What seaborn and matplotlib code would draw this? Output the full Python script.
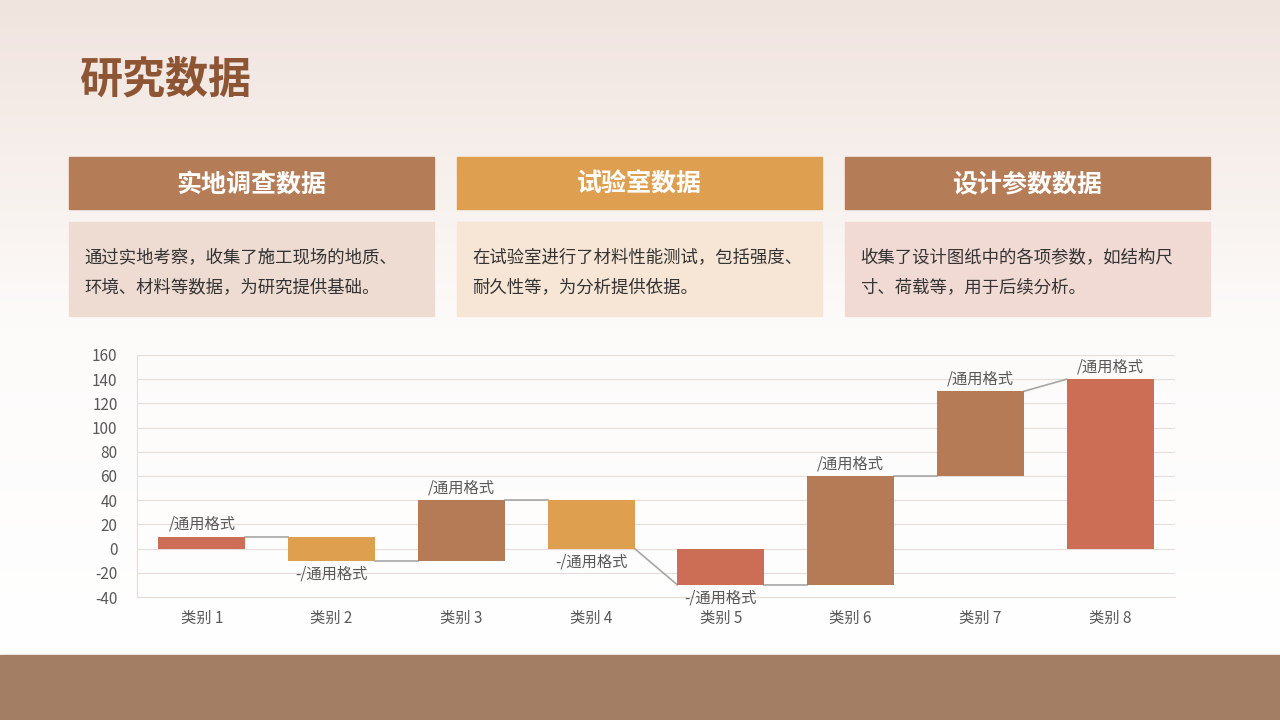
import matplotlib
matplotlib.use("Agg")
import matplotlib.pyplot as plt
import numpy as np
import seaborn as sns
from matplotlib.patches import Rectangle
from matplotlib import font_manager as fm
from matplotlib.colors import LinearSegmentedColormap

fam = "Noto Sans CJK SC"
for f in fm.findSystemFonts():
    if "NotoSansCJK" in f.replace(" ", "") or "NotoSansSC" in f.replace(" ", ""):
        try:
            fm.fontManager.addfont(f)
        except Exception:
            pass
names = {f.name for f in fm.fontManager.ttflist}
for cand in ["Noto Sans CJK SC", "Noto Sans CJK JP", "Noto Sans SC"]:
    if cand in names:
        fam = cand
        break
plt.rcParams["font.family"] = [fam, "DejaVu Sans"]
plt.rcParams["axes.unicode_minus"] = False

categories = ["类别 1", "类别 2", "类别 3", "类别 4", "类别 5", "类别 6", "类别 7", "类别 8"]
starts = [0, 10, -10, 40, 0, -30, 60, 0]
ends = [10, -10, 40, 0, -30, 60, 130, 140]
line_left = [0, 10, -10, 40, -30, -30, 60, 140]
line_right = [10, -10, 40, 0, -30, 60, 130, 140]
labels = ["/通用格式", "-/通用格式", "/通用格式", "-/通用格式", "-/通用格式", "/通用格式", "/通用格式", "/通用格式"]
bar_colors = ["#cc6e55", "#dea04e", "#b57a56", "#dea04e", "#cc6e55", "#b57a56", "#b57a56", "#cc6e55"]
yticks = [-40, -20, 0, 20, 40, 60, 80, 100, 120, 140, 160]

card_titles = ["实地调查数据", "试验室数据", "设计参数数据"]
card_texts = ["通过实地考察，收集了施工现场的地质、\n环境、材料等数据，为研究提供基础。",
              "在试验室进行了材料性能测试，包括强度、\n耐久性等，为分析提供依据。",
              "收集了设计图纸中的各项参数，如结构尺\n寸、荷载等，用于后续分析。"]
head_colors = ["#b57c58", "#dea050", "#b57c58"]
body_colors = ["#eedcd3", "#f7e6d6", "#f1dad3"]

W, H = 1280, 720
fig = plt.figure(figsize=(12.8, 7.2), dpi=100)
bg = fig.add_axes([0, 0, 1, 1])
bg.set_xlim(0, W); bg.set_ylim(H, 0); bg.axis("off")
grad = np.linspace(0, 1, 256).reshape(-1, 1)
cmap = LinearSegmentedColormap.from_list("g", ["#f0e4de", "#fdfbfa", "#ffffff"])
bg.imshow(grad, cmap=cmap, extent=[0, W, 655, 0], aspect="auto", zorder=0)
bg.add_patch(Rectangle((0, 655), W, 65, color="#a37e65", zorder=1))
bg.text(79, 80, "研究数据", fontsize=31, fontweight="bold", color="#8e5535", va="center")
xs = [69, 457, 845]
for x0, t, b, hc, bc in zip(xs, card_titles, card_texts, head_colors, body_colors):
    bg.add_patch(Rectangle((x0, 157), 365, 52, color=hc, zorder=2))
    bg.text(x0 + 182, 185, t, fontsize=18, fontweight="bold", color="white", ha="center", va="center", zorder=3)
    bg.add_patch(Rectangle((x0, 222), 365, 94, color=bc, zorder=2))
    bg.text(x0 + 15, 272, b, fontsize=12.5, color="#333333", va="center", linespacing=1.9, zorder=3)

ax = fig.add_axes([137 / W, 1 - 597 / H, (1175 - 137) / W, (597 - 355) / H])
ax.patch.set_alpha(0)
bw = 0.67
for i, (cat, s, e, c) in enumerate(zip(categories, starts, ends, bar_colors)):
    sns.barplot(x=[cat], y=[e - s], bottom=s, order=categories, color=c, saturation=1,
                width=bw, ax=ax, zorder=3)
w = bw / 2
for i in range(len(categories) - 1):
    ax.plot([i + w, i + 1 - w], [line_right[i], line_left[i + 1]], color="#a6a6a6", lw=1.2, zorder=2)
for i, (s, e, lab) in enumerate(zip(starts, ends, labels)):
    top = max(s, e); bot = min(s, e)
    if e >= s:
        ax.text(i, top + 3, lab, ha="center", va="bottom", fontsize=11, color="#595959")
    else:
        ax.text(i, bot - 4, lab, ha="center", va="top", fontsize=11, color="#595959")
ax.set_ylim(-40, 160)
ax.set_xlim(-0.5, 7.5)
ax.set_yticks(yticks)
ax.set_ylabel(""); ax.set_xlabel("")
ax.grid(axis="y", color="#e6dcd8", lw=0.8, zorder=0)
ax.set_axisbelow(True)
for sp in ["top", "right"]:
    ax.spines[sp].set_visible(False)
ax.spines["left"].set_color("#e6dcd8")
ax.spines["bottom"].set_color("#e6dcd8")
ax.tick_params(length=0, labelsize=11, colors="#595959")
ax.tick_params(axis="x", pad=9)
ax.tick_params(axis="y", pad=14)
fig.savefig("out.png", dpi=100)
